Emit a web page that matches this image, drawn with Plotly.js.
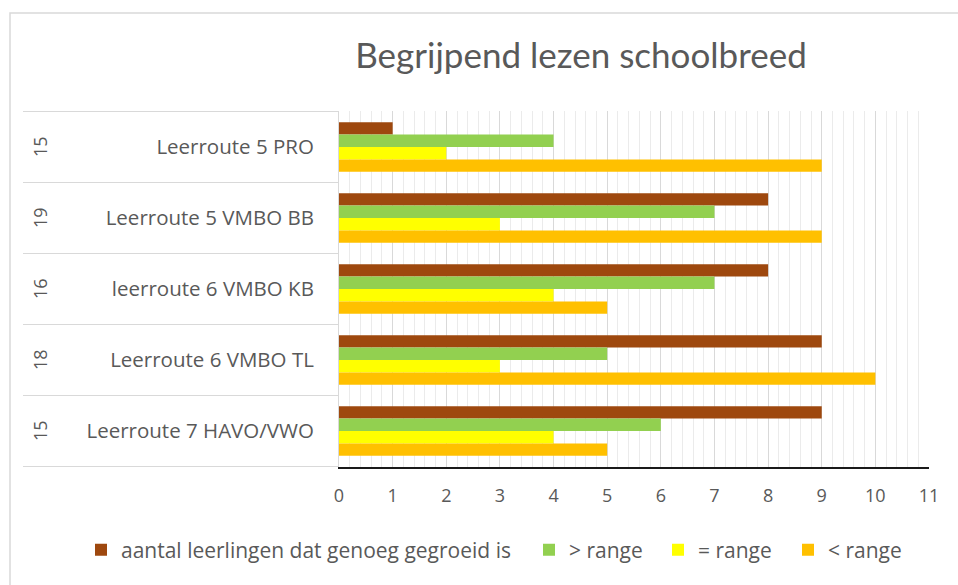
<!DOCTYPE html>
<html>
<head>
<meta charset="utf-8">
<script src="https://cdn.plot.ly/plotly-3.0.1.min.js"></script>
<style>
  html, body { margin: 0; padding: 0; background: #ffffff; }
  #chart { width: 958px; height: 585px; }
</style>
</head>
<body>
<div id="chart"></div>
<script>
// Categories (top to bottom) and the outer-level counts
const categories = ["Leerroute 5 PRO", "Leerroute 5 VMBO BB", "leerroute 6 VMBO KB", "Leerroute 6 VMBO TL", "Leerroute 7 HAVO/VWO"];
const groupCounts = [15, 19, 16, 18, 15];

// Series values
const genoegGegroeid = [1, 8, 8, 9, 9];
const bovenRange = [4, 7, 7, 5, 6];
const gelijkRange = [2, 3, 4, 3, 4];
const onderRange = [9, 9, 5, 10, 5];

const seriesNames = ["aantal leerlingen dat genoeg gegroeid is", "> range", "= range", "< range"];
const seriesColors = ["#9E480E", "#92D050", "#FFFF00", "#FFC000"];
const seriesValues = [genoegGegroeid, bovenRange, gelijkRange, onderRange];

const W = 958, H = 585;
const mL = 339, mR = 29, mT = 111, mB = 118;
const pw = W - mL - mR, ph = H - mT - mB;
const px = v => (v - mL) / pw;          // pixel x -> paper x
const py = v => (H - mB - v) / ph;       // pixel y -> paper y

const legendIds = ["legend", "legend2", "legend3", "legend4"];
const legendLeft = [81, 529, 658, 788];   // pixel left edge of each legend entry box

const traces = seriesValues.map((vals, i) => ({
  type: "bar",
  orientation: "h",
  name: seriesNames[i],
  x: vals,
  y: categories,
  legend: legendIds[i],
  marker: { color: seriesColors[i], line: { width: 0 } }
}));

const shapes = [];
// outer frame
shapes.push({ type: "rect", xref: "paper", yref: "paper", x0: px(10), x1: px(962), y0: py(600), y1: py(13),
  line: { color: "#d9d9d9", width: 1.5 }, layer: "below" });
// category divider lines in label column
for (let k = 0; k <= categories.length; k++) {
  shapes.push({ type: "line", xref: "paper", yref: "y", x0: px(23), x1: 0, y0: k - 0.5, y1: k - 0.5,
    line: { color: "#d9d9d9", width: 1 } });
}

const annotations = categories.map((c, i) => ({
  xref: "paper", yref: "y", x: px(40), y: c, text: String(groupCounts[i]),
  showarrow: false, textangle: -90, xanchor: "center", yanchor: "middle",
  font: { family: "Open Sans, sans-serif", size: 18, color: "#595959" }
}));

const layout = {
  width: W, height: H,
  margin: { l: mL, r: mR, t: mT, b: mB, pad: 0 },
  paper_bgcolor: "#ffffff",
  plot_bgcolor: "#ffffff",
  barmode: "group",
  bargap: 0.3,
  bargroupgap: 0,
  showlegend: true,
  title: {
    text: "Begrijpend lezen schoolbreed",
    xref: "container", yref: "container",
    x: 581 / W, y: 1 - 56 / H, xanchor: "center", yanchor: "middle",
    font: { family: "Lato, Open Sans, sans-serif", size: 35, color: "#595959" }
  },
  xaxis: {
    range: [0, 11],
    dtick: 1,
    showgrid: true,
    gridcolor: "#d9d9d9",
    gridwidth: 1,
    minor: { dtick: 0.2, showgrid: true, gridcolor: "#ebebeb", gridwidth: 1 },
    zeroline: false,
    showline: true,
    linecolor: "#1a1a1a",
    linewidth: 1.5,
    ticks: "",
    ticklabelstandoff: 12,
    tickfont: { family: "Open Sans, sans-serif", size: 18, color: "#595959" },
    fixedrange: true
  },
  yaxis: {
    type: "category",
    autorange: "reversed",
    showgrid: false,
    zeroline: false,
    showline: true,
    linecolor: "#d9d9d9",
    linewidth: 1,
    ticks: "",
    ticklabelstandoff: 20,
    tickfont: { family: "Open Sans, sans-serif", size: 20.5, color: "#595959" },
    fixedrange: true
  },
  shapes: shapes,
  annotations: annotations
};

legendIds.forEach((id, i) => {
  layout[id] = {
    orientation: "h",
    xref: "container", yref: "container",
    x: legendLeft[i] / W, y: 1 - 550 / H,
    xanchor: "left", yanchor: "middle",
    font: { family: "Open Sans, sans-serif", size: 21, color: "#595959" },
    itemwidth: 30,
    borderwidth: 0,
    bgcolor: "rgba(0,0,0,0)"
  };
});

Plotly.newPlot("chart", traces, layout, { staticPlot: true, displayModeBar: false });
</script>
</body>
</html>
